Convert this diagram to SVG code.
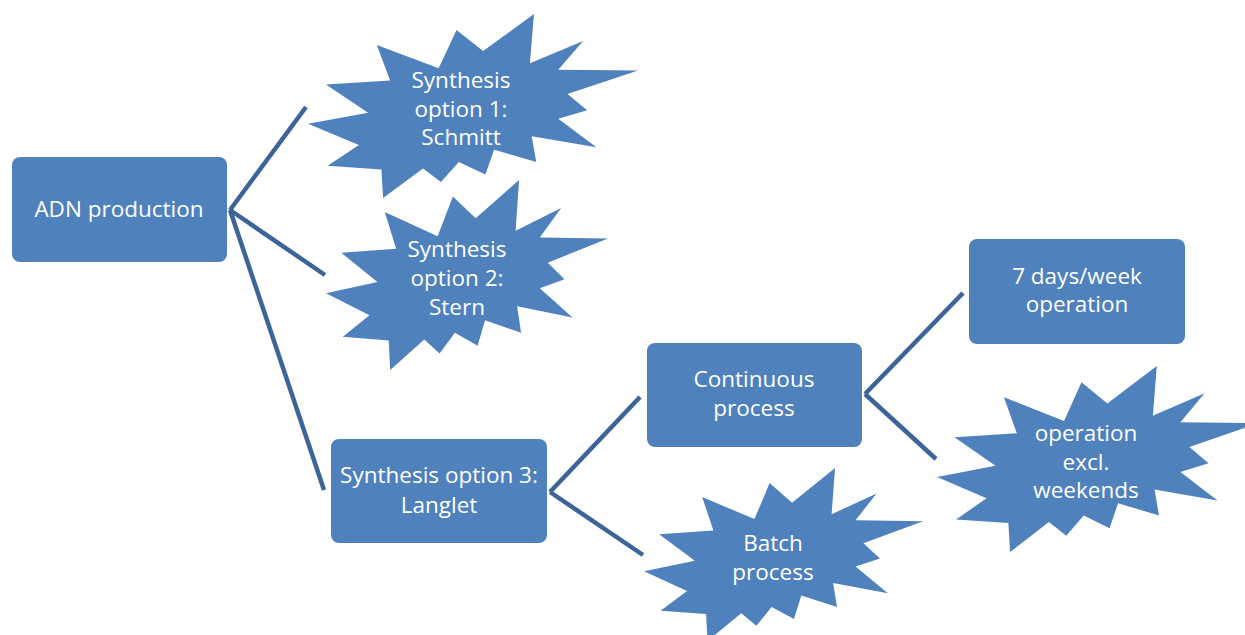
<svg xmlns="http://www.w3.org/2000/svg" xmlns:xlink="http://www.w3.org/1999/xlink" width="1245" height="635" viewBox="0 0 1245 635">
<style>
.box{fill:#4f81bd;}
.seal{fill:#4f81bd;}
.lbl{font-family:"Open Sans",Lato,"Liberation Sans",sans-serif;font-size:22.5px;fill:#ffffff;text-anchor:middle;}
.conn line{stroke:#3d6499;stroke-width:4.5;stroke-linecap:butt;}
</style>
<defs>
<path id="seal" d="M11462 4342L14790 0L14525 5777L18007 3172L16380 6532L21600 6645L16985 9402L18270 11290L16380 12310L18877 15632L14640 14350L14942 17370L12180 15935L11612 18842L9872 17370L8700 19712L7527 18125L4917 21600L4805 18240L1285 17825L3330 15370L0 12877L3935 11592L1172 8270L5372 7817L4502 3625L8550 6382L9722 1887Z"/>
</defs>
<rect width="1245" height="635" fill="#ffffff"/>
<g id="connectors" class="conn">
<line x1="230" y1="210" x2="306" y2="107"/>
<line x1="230" y1="210" x2="325" y2="275"/>
<line x1="230" y1="210" x2="324" y2="490"/>
<line x1="550" y1="492" x2="640" y2="397"/>
<line x1="550" y1="492" x2="643" y2="555"/>
<line x1="865" y1="394" x2="963" y2="293"/>
<line x1="865" y1="394" x2="936" y2="459"/>
</g>
<g id="adn">
<rect class="box" x="12" y="157" width="215" height="105" rx="8"/>
<text class="lbl" x="119" y="217">ADN production</text>
</g>
<g id="schmitt">
<use xlink:href="#seal" class="seal" transform="translate(308 14) scale(0.015278 0.008519)"/>
<text class="lbl" x="461" y="88">Synthesis</text>
<text class="lbl" x="461" y="117">option 1:</text>
<text class="lbl" x="461" y="145">Schmitt</text>
</g>
<g id="stern">
<use xlink:href="#seal" class="seal" transform="translate(326 180) scale(0.013056 0.008796)"/>
<text class="lbl" x="457" y="257">Synthesis</text>
<text class="lbl" x="457" y="286">option 2:</text>
<text class="lbl" x="457" y="315">Stern</text>
</g>
<g id="langlet">
<rect class="box" x="331" y="439" width="216" height="104" rx="8"/>
<text class="lbl" x="439" y="483">Synthesis option 3:</text>
<text class="lbl" x="439" y="513">Langlet</text>
</g>
<g id="continuous">
<rect class="box" x="647" y="343" width="215" height="104" rx="8"/>
<text class="lbl" x="754" y="387">Continuous</text>
<text class="lbl" x="754" y="416">process</text>
</g>
<g id="batch">
<use xlink:href="#seal" class="seal" transform="translate(644 468) scale(0.012917 0.008009)"/>
<text class="lbl" x="773" y="551">Batch</text>
<text class="lbl" x="773" y="580">process</text>
</g>
<g id="sevendays">
<rect class="box" x="969" y="239" width="216" height="105" rx="8"/>
<text class="lbl" x="1077" y="284">7 days/week</text>
<text class="lbl" x="1077" y="312">operation</text>
</g>
<g id="weekends">
<use xlink:href="#seal" class="seal" transform="translate(937 366) scale(0.014861 0.008611)"/>
<text class="lbl" x="1086" y="441">operation</text>
<text class="lbl" x="1086" y="470">excl.</text>
<text class="lbl" x="1086" y="498">weekends</text>
</g>
</svg>
